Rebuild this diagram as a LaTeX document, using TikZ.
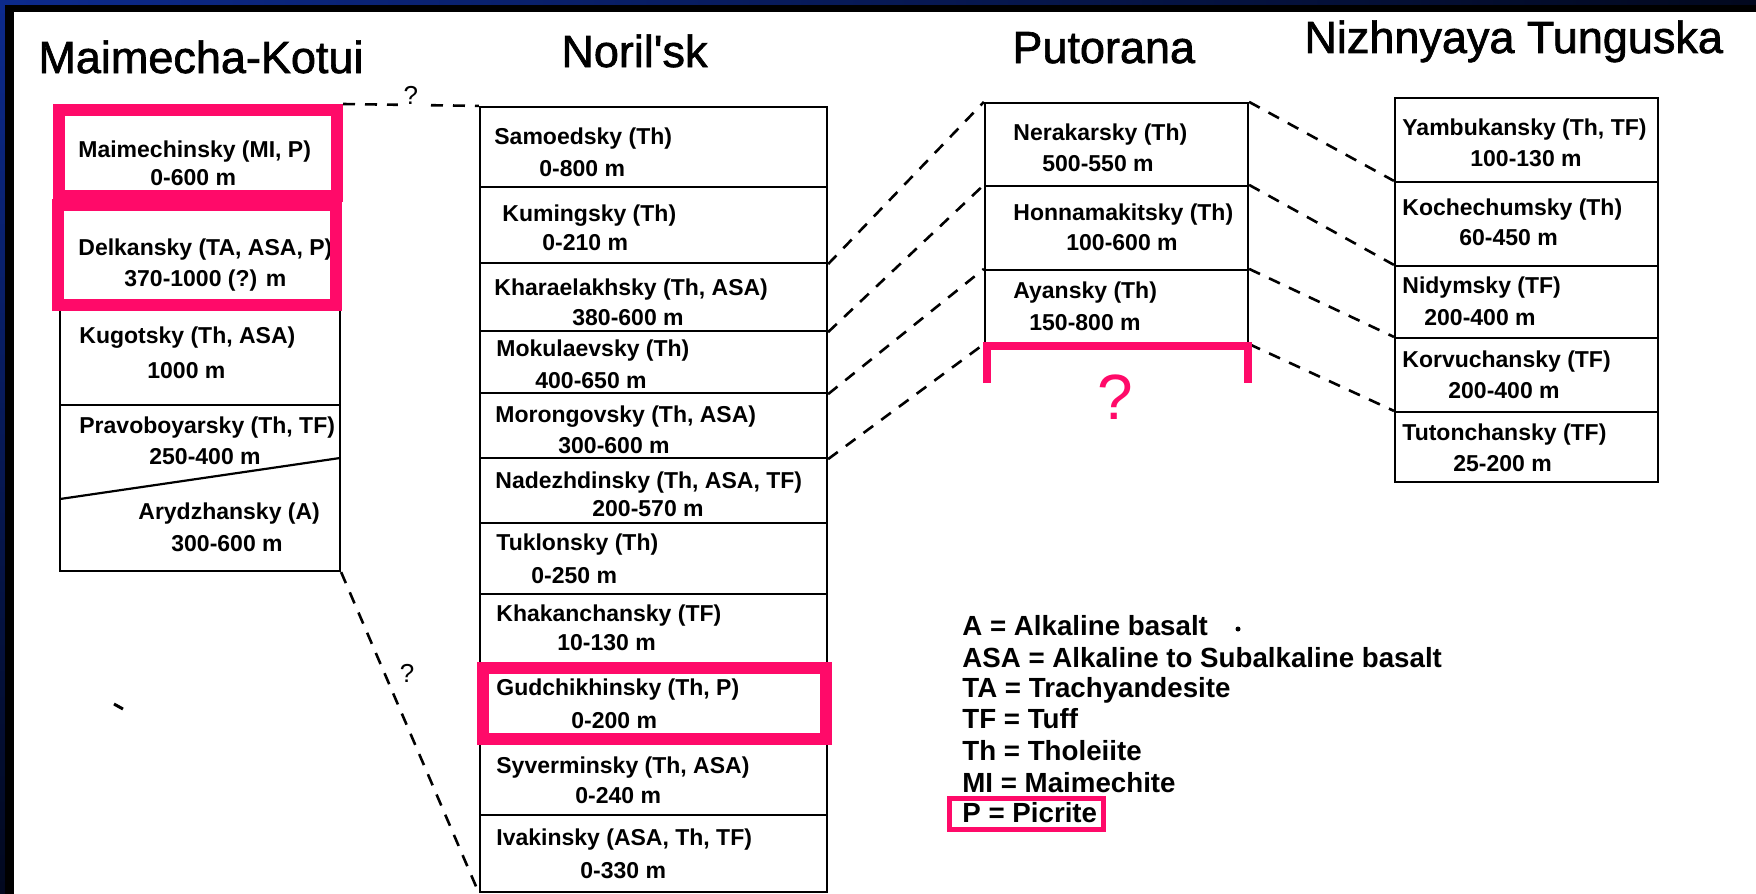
\documentclass[tikz,border=0pt]{standalone}
\usepackage{fontspec}
\setmainfont{Liberation Sans}[Ligatures=TeXOff]
\newfontfamily\titlefont{Liberation Sans}[Ligatures=TeXOff,FakeBold=1.5]
\usetikzlibrary{fit}
\definecolor{hotpink}{RGB}{255,10,105}
\definecolor{frameblue}{RGB}{12,42,140}
\definecolor{framedark}{RGB}{2,8,30}
\begin{document}
\begin{tikzpicture}[x=0.5pt,y=-0.5pt,
  rowbox/.style={draw=black, line width=1.1pt, inner sep=0pt},
  pinkframe/.style={draw=hotpink, line width=6pt, inner sep=0pt},
  lbl/.style={font=\bfseries\fontsize{11.5}{13}\selectfont, inner sep=0pt, anchor=base west},
  ttl/.style={font=\titlefont\fontsize{22.5}{26}\selectfont, inner sep=0pt, anchor=base west},
  leg/.style={font=\bfseries\fontsize{13.85}{16}\selectfont, inner sep=0pt, anchor=base west},
  link/.style={draw=black, line width=1.3pt, dash pattern=on 6pt off 5pt},
  qm/.style={font=\fontsize{13}{15}\selectfont, inner sep=0pt}
]
\useasboundingbox (0,0) rectangle (1756,894);
% frame
\shade[top color=frameblue, bottom color=framedark] (0,0) rectangle (14,894);
\shade[left color=frameblue, right color=framedark] (0,0) rectangle (1756,12);
\fill[black] (5,5) rectangle (1756,894);
\fill[white] (14,12) rectangle (1756,894);

% titles
\node[ttl] (tmk) at (38,73) {Maimecha-Kotui};
\node[ttl] (tno) at (561,67) {Noril'sk};
\node[ttl] (tpu) at (1012,63) {Putorana};
\node[ttl] (tnt) at (1304,53) {Nizhnyaya Tunguska};

% Maimecha-Kotui column
\node[rowbox, fit={(60,305) (340,405)}] (kug) {};
\node[rowbox, fit={(60,405) (340,571)}] (prav) {};
\coordinate (dgl) at (60,499);
\coordinate (dgr) at (340,458);
\draw[line width=1.1pt] (dgl) -- (dgr);

\node[lbl] (mt1) at (78,157) {Maimechinsky (MI, P)};
\node[lbl] (mt2) at (150,185) {0-600 m};
\node[lbl] (mt3) at (78,255) {Delkansky (TA, ASA, P)};
\node[lbl] (mt4) at (124,286) {370-1000 (?) m};
\node[lbl] (mt5) at (79,343) {Kugotsky (Th, ASA)};
\node[lbl] (mt6) at (147,378) {1000 m};
\node[lbl] (mt7) at (79,433) {Pravoboyarsky (Th, TF)};
\node[lbl] (mt8) at (149,464) {250-400 m};
\node[lbl] (mt9) at (138,519) {Arydzhansky (A)};
\node[lbl] (mt10) at (171,551) {300-600 m};

% Noril'sk column
\foreach \n/\a/\b in {sam/107/187, kum/187/263, khar/263/331, mok/331/393, mor/393/458, nad/458/523, tuk/523/594, khak/594/668, gud/668/739, syv/739/815, iva/815/892}
  \node[rowbox, fit={(480,\a) (827,\b)}] (\n) {};

\node[lbl] (nt1) at (494,144) {Samoedsky (Th)};
\node[lbl] (nt2) at (539,176) {0-800 m};
\node[lbl] (nt3) at (502,221) {Kumingsky (Th)};
\node[lbl] (nt4) at (542,250) {0-210 m};
\node[lbl] (nt5) at (494,295) {Kharaelakhsky (Th, ASA)};
\node[lbl] (nt6) at (572,325) {380-600 m};
\node[lbl] (nt7) at (496,356) {Mokulaevsky (Th)};
\node[lbl] (nt8) at (535,388) {400-650 m};
\node[lbl] (nt9) at (495,422) {Morongovsky (Th, ASA)};
\node[lbl] (nt10) at (558,453) {300-600 m};
\node[lbl] (nt11) at (495,488) {Nadezhdinsky (Th, ASA, TF)};
\node[lbl] (nt12) at (592,516) {200-570 m};
\node[lbl] (nt13) at (496,550) {Tuklonsky (Th)};
\node[lbl] (nt14) at (531,583) {0-250 m};
\node[lbl] (nt15) at (496,621) {Khakanchansky (TF)};
\node[lbl] (nt16) at (557,650) {10-130 m};
\node[lbl] (nt17) at (496,695) {Gudchikhinsky (Th, P)};
\node[lbl] (nt18) at (571,728) {0-200 m};
\node[lbl] (nt19) at (496,773) {Syverminsky (Th, ASA)};
\node[lbl] (nt20) at (575,803) {0-240 m};
\node[lbl] (nt21) at (496,845) {Ivakinsky (ASA, Th, TF)};
\node[lbl] (nt22) at (580,878) {0-330 m};

% Putorana column
\foreach \n/\a/\b in {ner/103/186, hon/186/270, aya/270/343}
  \node[rowbox, fit={(985,\a) (1248,\b)}] (\n) {};
\node[lbl] (pt1) at (1013,140) {Nerakarsky (Th)};
\node[lbl] (pt2) at (1042,171) {500-550 m};
\node[lbl] (pt3) at (1013,220) {Honnamakitsky (Th)};
\node[lbl] (pt4) at (1066,250) {100-600 m};
\node[lbl] (pt5) at (1013,298) {Ayansky (Th)};
\node[lbl] (pt6) at (1029,330) {150-800 m};

% Nizhnyaya Tunguska column
\foreach \n/\a/\b in {yam/98/182, koc/182/266, nid/266/338, kor/338/412, tut/412/482}
  \node[rowbox, fit={(1395,\a) (1658,\b)}] (\n) {};
\node[lbl] (zt1) at (1402,135) {Yambukansky (Th, TF)};
\node[lbl] (zt2) at (1470,166) {100-130 m};
\node[lbl] (zt3) at (1402,215) {Kochechumsky (Th)};
\node[lbl] (zt4) at (1459,245) {60-450 m};
\node[lbl] (zt5) at (1402,293) {Nidymsky (TF)};
\node[lbl] (zt6) at (1424,325) {200-400 m};
\node[lbl] (zt7) at (1402,367) {Korvuchansky (TF)};
\node[lbl] (zt8) at (1448,398) {200-400 m};
\node[lbl] (zt9) at (1402,440) {Tutonchansky (TF)};
\node[lbl] (zt10) at (1453,471) {25-200 m};

% pink highlight boxes (nodes used by connectors)
\node[pinkframe, fit={(58.5,110) (337,196)}] (mai) {};
\node[pinkframe, fit={(57.5,204.5) (336,305)}] (del) {};
\node[pinkframe, fit={(483,668) (826,739)}] (gudp) {};

% connectors
\draw[link] (mai.north east) -- node[qm, anchor=base, fill=white, inner xsep=3pt, inner ysep=1pt] (q1) {?} (sam.north west);
\draw[link] (prav.south east) -- node[qm, pos=0.315, anchor=west, xshift=7pt] (q2) {?} (iva.south west);
\draw[link] (kum.south east) -- (ner.north west);
\draw[link] (khar.south east) -- (hon.north west);
\draw[link] (mok.south east) -- (aya.north west);
\draw[link] (mor.south east) -- (aya.south west);
\draw[link] (ner.north east) -- (koc.north west);
\draw[link] (hon.north east) -- (nid.north west);
\draw[link] (aya.north east) -- (kor.north west);
\draw[link] (aya.south east) -- (tut.north west);

% Putorana open bracket
\draw[hotpink, line width=4pt, line join=miter] (987,383) -- (987,346) -- (1248,346) -- (1248,383);
\node[font=\fontsize{32}{36}\selectfont, text=hotpink, inner sep=0pt] (pq) at (1115,397) {?};

% legend
\node[leg] (la) at (962,635) {A = Alkaline basalt};
\node[leg] (lasa) at (962,667) {ASA = Alkaline to Subalkaline basalt};
\node[leg] (lta) at (962,697) {TA = Trachyandesite};
\node[leg] (ltf) at (962,728) {TF = Tuff};
\node[leg] (lth) at (962,760) {Th = Tholeiite};
\node[leg] (lmi) at (962,792) {MI = Maimechite};
\node[leg] (lp) at (962,822) {P = Picrite};
\node[draw=hotpink, line width=2.5pt, inner sep=0pt, fit={(949.5,798.5) (1103.5,829.5)}] (lpbox) {};

% scan specks
\fill (1238,629) circle (2.5);
\draw[line width=1.5pt] (114,704) -- (123,709);
\end{tikzpicture}
\end{document}
